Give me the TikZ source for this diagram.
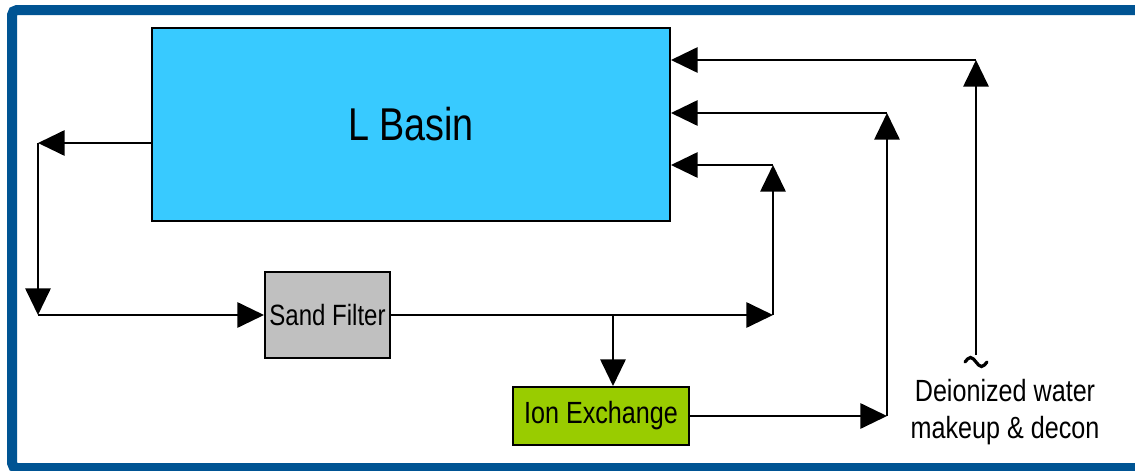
\documentclass[tikz,border=0pt]{standalone}
\usepackage{fontspec}
\setmainfont{Liberation Sans}
\newfontfamily\narrow[FakeStretch=0.82]{Liberation Sans}
\usepackage{xcolor}
\usepackage{tikz}
\usetikzlibrary{arrows.meta, positioning}
\definecolor{frameblue}{RGB}{0,84,147}
\definecolor{basin}{RGB}{56,202,255}
\definecolor{sand}{RGB}{192,192,192}
\definecolor{ion}{RGB}{153,204,0}

\begin{document}
\begin{tikzpicture}[x=0.75pt, y=-0.75pt, every node/.style={font=\narrow\fontsize{23}{28}\selectfont},
          b/.style={draw=black, line width=1.5pt, inner sep=0pt, align=center},
          ar/.style={-{Triangle[length=20pt, width=19pt]}, draw=black, line width=1.5pt}]
        \useasboundingbox (0,0) rectangle (1135,471);
        \clip (0,0) rectangle (1135,471);
        \fill[white] (0,0) rectangle (1135,471);
        \draw[frameblue, line width=7.5pt, rounded corners=3.75pt]
             (1160,10) -- (12,10) -- (12,468) -- (1160,468);
        % boxes
        \node[b, fill=basin, minimum width=388.5pt, minimum height=144.75pt,
              font=\narrow\fontsize{34.5}{40}\selectfont] (lb) at (411,124.5) {L Basin};
        \node[b, fill=sand, minimum width=93.75pt, minimum height=64.5pt,
              font=\narrow\fontsize{22}{26}\selectfont] (sf) at (327.5,315) {Sand Filter};
        \node[b, fill=ion, minimum width=132pt, minimum height=43.5pt] (ix) at (601,416) {Ion Exchange};
        \node[align=center] (dw) at (1005,412) {Deionized water\\makeup \& decon};
        % bends
        \coordinate (bl) at (38,143);
        \coordinate (dl) at (38,315);
        \coordinate (sr) at (773,315);
        \coordinate (su) at (773,165);
        \coordinate (tap) at (613,315);
        \coordinate (ir) at (887,416);
        \coordinate (iu) at (887,113);
        \coordinate (du) at (976,60);
        \coordinate (db) at (976,355);
        % loop through the filter
        \draw[ar] (lb.west |- bl) -- (bl); \draw[ar] (bl) -- (dl);
        \draw[ar] (dl) -- (sf.west);
        \draw[ar] (sf.east) -- (sr); \draw[ar] (sr) -- (su);
        \draw[ar] (su) -- (lb.east |- su);
        \draw[ar] (tap) -- (tap |- ix.north);
        \draw[ar] (ix.east) -- (ir); \draw[ar] (ir) -- (iu);
        \draw[ar] (iu) -- (lb.east |- iu);
        % makeup water, broken end
        \draw[ar] (db) -- (du); \draw[ar] (du) -- (lb.east |- du);
        \draw[line width=2.4pt, line cap=round]
             (965,362) sin (970.5,357.5) cos (976,362) sin (981.5,366.5) cos (987,362);
      \end{tikzpicture}
\end{document}
